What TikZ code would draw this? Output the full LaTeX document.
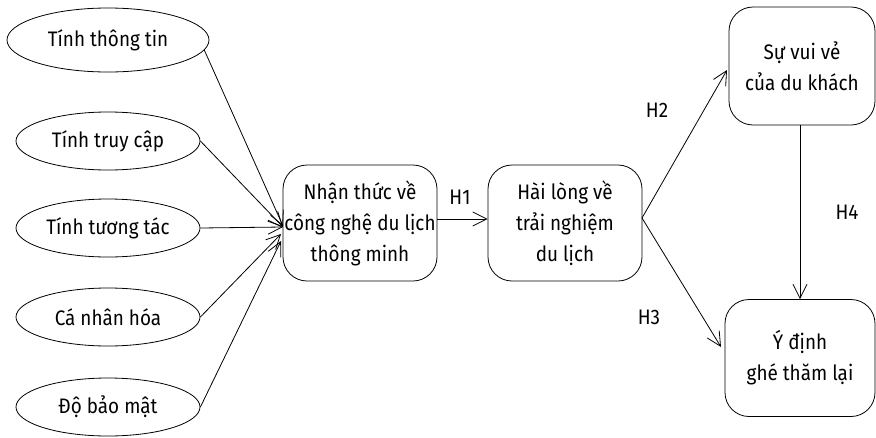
\documentclass[tikz,border=0pt]{standalone}
\usepackage{fontspec}
\setmainfont{Fira Sans}[FakeStretch=0.9]
\usetikzlibrary{arrows.meta,shapes.geometric}
\begin{document}
\begin{tikzpicture}[x=1pt,y=-1pt,
  every node/.style={font=\fontsize{21}{31}\selectfont, text=black},
  factor/.style={draw, ellipse, line width=0.8pt, minimum width=184pt, minimum height=58pt, inner sep=0pt},
  construct/.style={draw, rounded corners=24pt, line width=0.8pt, align=center, inner sep=0pt},
  link/.style={line width=0.8pt, -{Straight Barb[length=14pt,width=14pt,line width=0.8pt]}},
  hyp/.style={inner sep=0pt}]
\useasboundingbox (0,0) rectangle (876,437);

% input factors
\node[factor, minimum width=202pt, minimum height=64pt] (f1) at (108,40) {Tính thông tin};
\node[factor] (f2) at (108,141) {Tính truy cập};
\node[factor] (f3) at (108,228) {Tính tương tác};
\node[factor] (f4) at (108,317) {Cá nhân hóa};
\node[factor] (f5) at (108,407) {Độ bảo mật};

% main constructs
\node[construct, minimum width=154pt, minimum height=116pt] (perc) at (360,223)
  {Nhận thức về\\công nghệ du lịch\\thông minh};
\node[construct, minimum width=154pt, minimum height=116pt] (sat) at (565,223)
  {Hài lòng về\\trải nghiệm\\du lịch};
\node[construct, minimum width=146pt, minimum height=118pt] (joy) at (802,66)
  {Sự vui vẻ\\của du khách};
\node[construct, minimum width=150pt, minimum height=117pt] (intent) at (800,358)
  {Ý định\\ghé thăm lại};

% arrow targets on the left side of the perception box
\coordinate (t1) at (283,226);
\coordinate (t2) at (283,227);
\coordinate (t3) at (283,227);
\coordinate (t4) at (281,234);
\coordinate (t5) at (281,241);
\coordinate (s0) at (642,218);

\draw[link] (f1.-6) -- (t1);
\draw[link] (f2.east) -- (t2);
\draw[link] (f3.east) -- (t3);
\draw[link] (f4.east) -- (t4);
\draw[link] (f5.east) -- (t5);

\draw[link] (perc.east |- 0,219) -- (sat.west |- 0,219);
\draw[link] (s0) -- (727,70) coordinate (e2);
\draw[link] (s0) -- (721,347) coordinate (e3);
\draw[link] (joy.south -| 800,0) -- (intent.north -| 800,0);

% hypothesis labels
\node[hyp] (h1) at (460,197) {H1};
\node[hyp] (h2) at (657,110) {H2};
\node[hyp] (h3) at (649,317) {H3};
\node[hyp] (h4) at (847,212) {H4};
\end{tikzpicture}
\end{document}
